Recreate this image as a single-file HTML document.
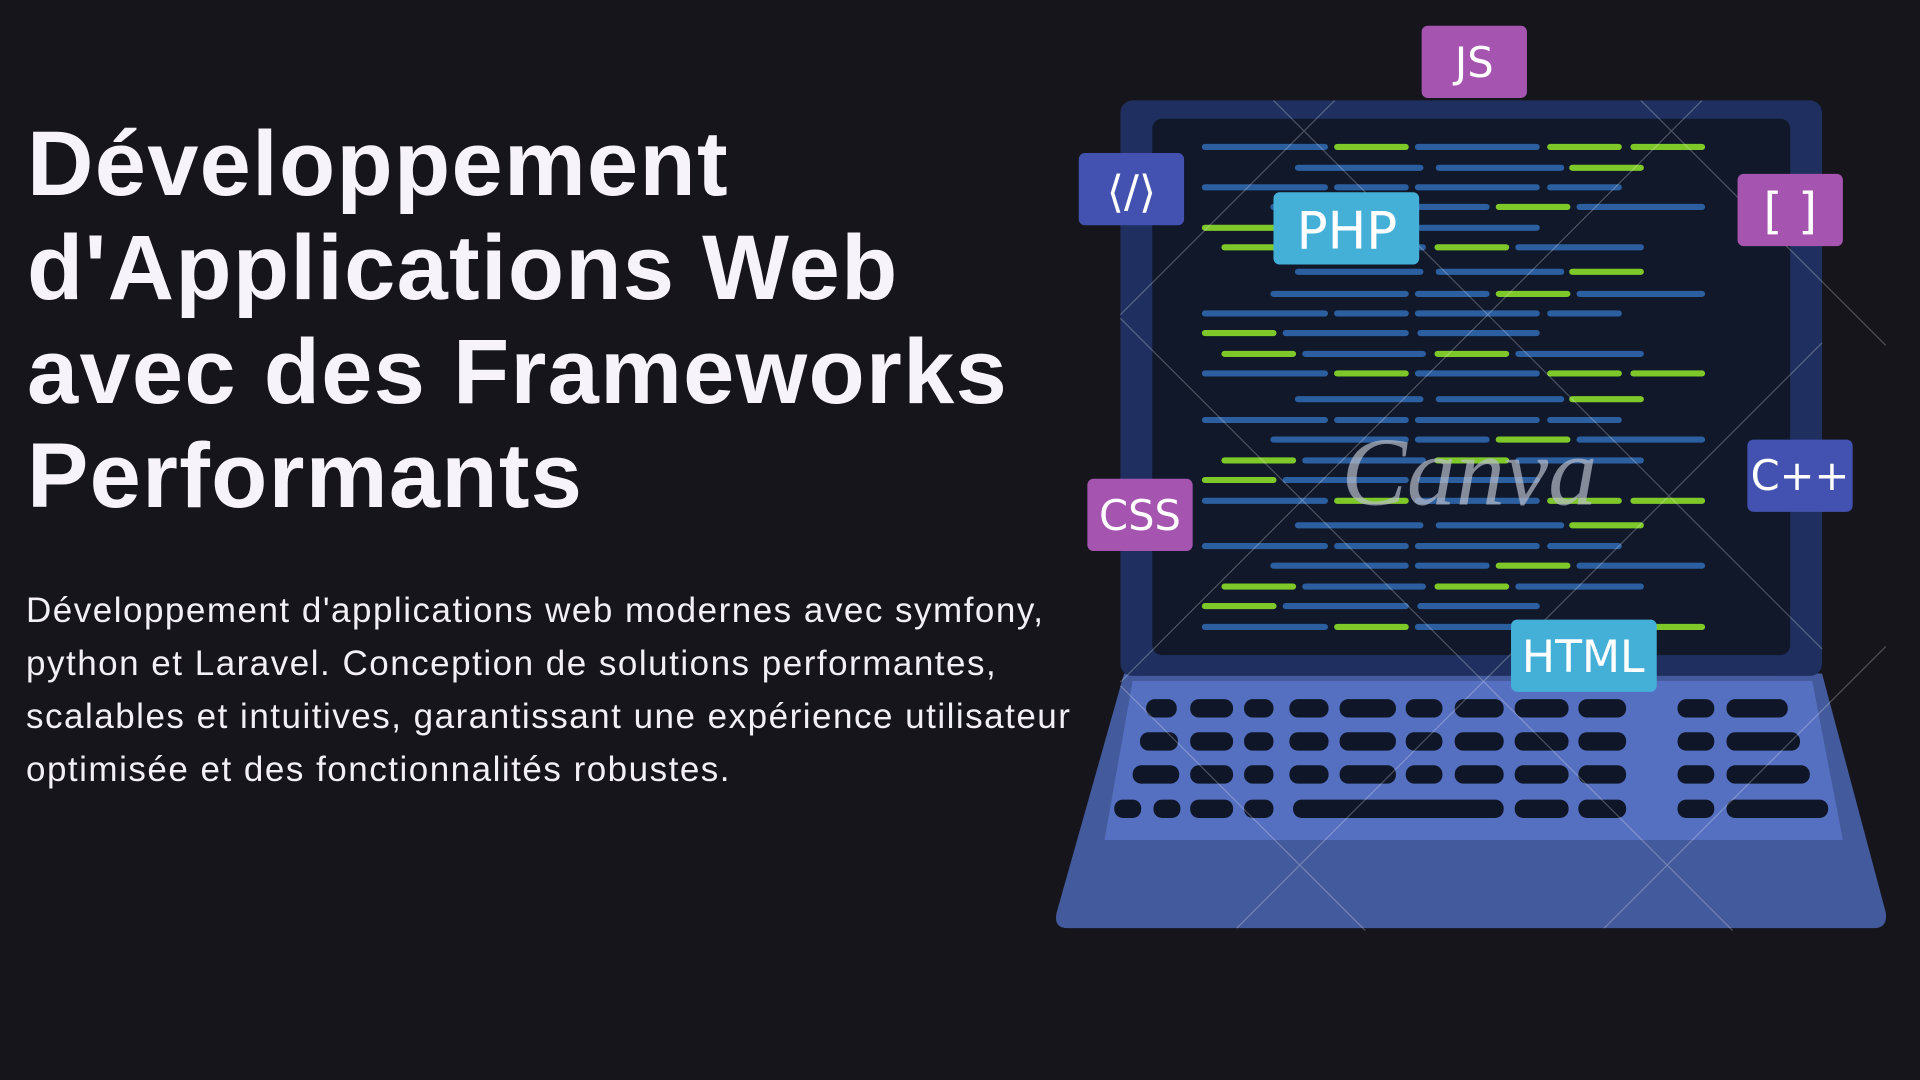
<!DOCTYPE html>
<html><head><meta charset="utf-8"><style>
html,body{margin:0;padding:0;background:#16151c;width:1920px;height:1080px;overflow:hidden;position:relative}
h1{position:absolute;left:27px;top:112px;margin:0;font:bold 92px/104px "Liberation Sans",sans-serif;color:#f6f4fa;letter-spacing:1.3px;white-space:nowrap}
p{position:absolute;left:26px;top:584px;margin:0;width:1200px;font:35px/53px "Liberation Sans",sans-serif;color:#f2f0f6;letter-spacing:1.5px;white-space:nowrap}
svg{position:absolute;left:0;top:0}
</style></head><body>
<h1>Développement<br>d'Applications Web<br>avec des Frameworks<br>Performants</h1>
<p>Développement d'applications web modernes avec symfony,<br>python et Laravel. Conception de solutions performantes,<br>scalables et intuitives, garantissant une expérience utilisateur<br>optimisée et des fonctionnalités robustes.</p>
<svg width="1920" height="1080" viewBox="0 0 1568 882">
<defs>
<g id="A"><line x1="984" x2="1082" stroke="#2c5fa0"/><line x1="1092" x2="1148" stroke="#7ec82a"/><line x1="1158" x2="1255" stroke="#2c5fa0"/><line x1="1266" x2="1322" stroke="#7ec82a"/><line x1="1334" x2="1390" stroke="#7ec82a"/></g>
<g id="B"><line x1="1060" x2="1160" stroke="#2c5fa0"/><line x1="1175" x2="1275" stroke="#2c5fa0"/><line x1="1284" x2="1340" stroke="#7ec82a"/></g>
<g id="C"><line x1="984" x2="1082" stroke="#2c5fa0"/><line x1="1092" x2="1148" stroke="#2c5fa0"/><line x1="1158" x2="1255" stroke="#2c5fa0"/><line x1="1266" x2="1322" stroke="#2c5fa0"/></g>
<g id="D"><line x1="1040" x2="1148" stroke="#2c5fa0"/><line x1="1158" x2="1214" stroke="#2c5fa0"/><line x1="1224" x2="1280" stroke="#7ec82a"/><line x1="1290" x2="1390" stroke="#2c5fa0"/></g>
<g id="E"><line x1="984" x2="1040" stroke="#7ec82a"/><line x1="1050" x2="1148" stroke="#2c5fa0"/><line x1="1160" x2="1255" stroke="#2c5fa0"/></g>
<g id="F"><line x1="1000" x2="1056" stroke="#7ec82a"/><line x1="1066" x2="1162" stroke="#2c5fa0"/><line x1="1174" x2="1230" stroke="#7ec82a"/><line x1="1240" x2="1340" stroke="#2c5fa0"/></g>
</defs>
<path d="M918 550 L1488 550 L1540 745 Q1542 758 1530 758 L872 758 Q860 758 863 745 Z" fill="#435a9c"/>
<path d="M925 556 L1480 556 L1505 686 L902 686 Z" fill="#5570c0"/>
<rect x="915" y="82" width="573" height="470" rx="10" fill="#1f3060"/>
<rect x="941" y="97" width="521" height="438" rx="8" fill="#10182a"/>
<g stroke-width="5" stroke-linecap="round">
<use href="#A" y="120"/><use href="#B" y="137"/><use href="#C" y="153"/><use href="#D" y="169"/><use href="#E" y="186"/><use href="#F" y="202"/>
<use href="#B" y="222"/><use href="#D" y="240"/><use href="#C" y="256"/><use href="#E" y="272"/><use href="#F" y="289"/><use href="#A" y="305"/>
<use href="#B" y="326"/><use href="#C" y="343"/><use href="#D" y="359"/><use href="#F" y="376"/><use href="#E" y="392"/><use href="#A" y="409"/>
<use href="#B" y="429"/><use href="#C" y="446"/><use href="#D" y="462"/><use href="#F" y="479"/><use href="#E" y="495"/><use href="#A" y="512"/>
</g>
<g fill="#0f1628">
<rect x="936" y="571" width="25" height="15" rx="7"/><rect x="972" y="571" width="35" height="15" rx="7"/><rect x="1016" y="571" width="24" height="15" rx="7"/><rect x="1053" y="571" width="32" height="15" rx="7"/><rect x="1094" y="571" width="46" height="15" rx="7"/><rect x="1148" y="571" width="30" height="15" rx="7"/><rect x="1188" y="571" width="40" height="15" rx="7"/><rect x="1237" y="571" width="44" height="15" rx="7"/><rect x="1289" y="571" width="39" height="15" rx="7"/><rect x="1370" y="571" width="30" height="15" rx="7"/><rect x="1410" y="571" width="50" height="15" rx="7"/>
<rect x="931" y="598" width="31" height="15" rx="7"/><rect x="972" y="598" width="35" height="15" rx="7"/><rect x="1016" y="598" width="24" height="15" rx="7"/><rect x="1053" y="598" width="32" height="15" rx="7"/><rect x="1094" y="598" width="46" height="15" rx="7"/><rect x="1148" y="598" width="30" height="15" rx="7"/><rect x="1188" y="598" width="40" height="15" rx="7"/><rect x="1237" y="598" width="44" height="15" rx="7"/><rect x="1289" y="598" width="39" height="15" rx="7"/><rect x="1370" y="598" width="30" height="15" rx="7"/><rect x="1410" y="598" width="60" height="15" rx="7"/>
<rect x="925" y="625" width="38" height="15" rx="7"/><rect x="972" y="625" width="35" height="15" rx="7"/><rect x="1016" y="625" width="24" height="15" rx="7"/><rect x="1053" y="625" width="32" height="15" rx="7"/><rect x="1094" y="625" width="46" height="15" rx="7"/><rect x="1148" y="625" width="30" height="15" rx="7"/><rect x="1188" y="625" width="40" height="15" rx="7"/><rect x="1237" y="625" width="44" height="15" rx="7"/><rect x="1289" y="625" width="39" height="15" rx="7"/><rect x="1370" y="625" width="30" height="15" rx="7"/><rect x="1410" y="625" width="68" height="15" rx="7"/>
<rect x="910" y="653" width="22" height="15" rx="7"/><rect x="942" y="653" width="22" height="15" rx="7"/><rect x="972" y="653" width="35" height="15" rx="7"/><rect x="1016" y="653" width="24" height="15" rx="7"/><rect x="1056" y="653" width="172" height="15" rx="7"/><rect x="1237" y="653" width="44" height="15" rx="7"/><rect x="1289" y="653" width="39" height="15" rx="7"/><rect x="1370" y="653" width="30" height="15" rx="7"/><rect x="1410" y="653" width="83" height="15" rx="7"/>
</g>
<text x="1200" y="412" font-family="Liberation Serif,serif" font-style="italic" font-size="80" fill="#b8bcc8" fill-opacity="0.7" text-anchor="middle">Canva</text>
<g stroke="#ffffff" stroke-opacity="0.25" stroke-width="1">
<path d="M1040 82 L1488 530 M1340 82 L1540 282 M915 260 L1415 760 M915 560 L1115 760 M1090 82 L915 257 M1390 82 L915 557 M1488 280 L1010 758 M1540 528 L1310 758"/>
</g>
<g font-family="DejaVu Sans,Liberation Sans,sans-serif" fill="#fff" text-anchor="middle">
<rect x="1161" y="21" width="86" height="59" rx="5" fill="#a555b0"/><text x="1204" y="63" font-size="34">JS</text>
<rect x="881" y="125" width="86" height="59" rx="5" fill="#4352b0"/><text x="924" y="169" font-size="36">⟨/⟩</text>
<rect x="1419" y="142" width="86" height="59" rx="5" fill="#a555b0"/><text x="1462" y="186" font-size="40">[ ]</text>
<rect x="1040" y="157" width="119" height="59" rx="5" fill="#44b0d8"/><text x="1100" y="203" font-size="42">PHP</text>
<rect x="1427" y="359" width="86" height="59" rx="5" fill="#4352b0"/><text x="1470" y="400" font-size="34">C++</text>
<rect x="888" y="391" width="86" height="59" rx="5" fill="#a555b0"/><text x="931" y="433" font-size="34">CSS</text>
<rect x="1234" y="506" width="119" height="59" rx="5" fill="#44b0d8"/><text x="1293" y="549" font-size="36">HTML</text>
</g>
</svg>
</body></html>
